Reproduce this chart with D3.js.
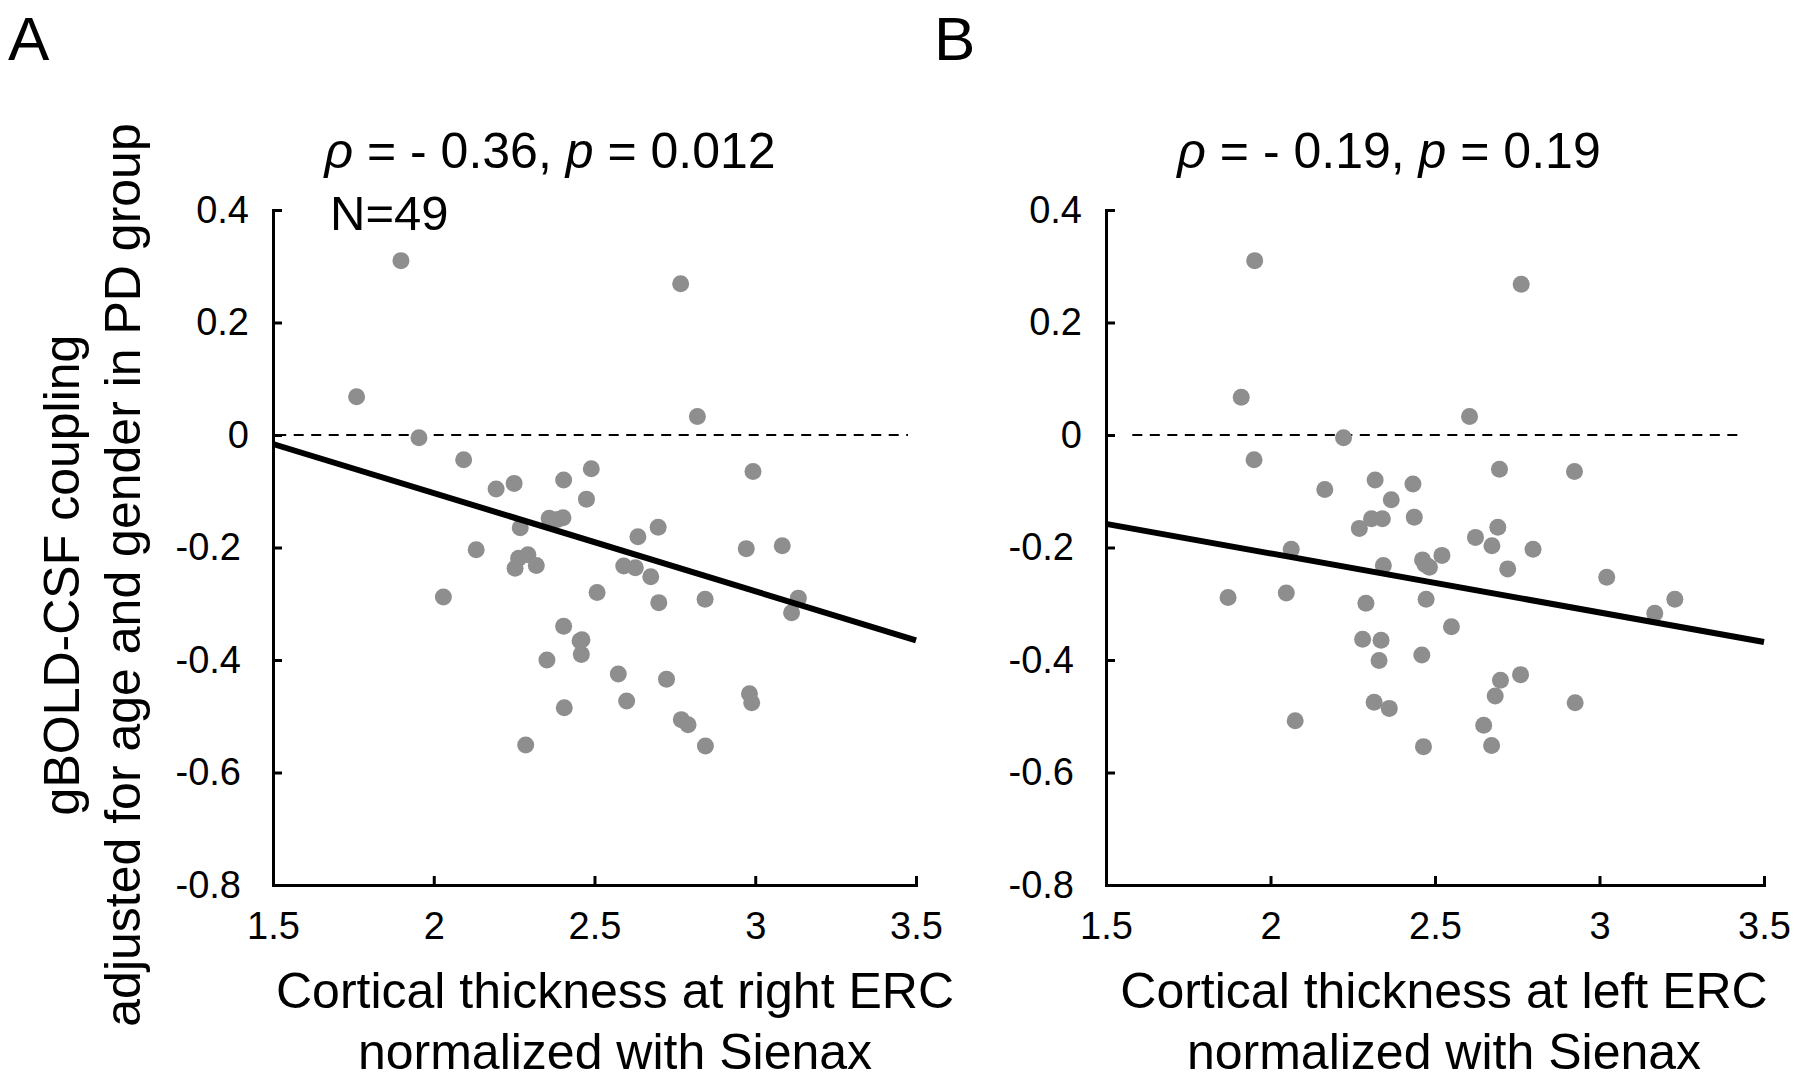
<!DOCTYPE html>
<html>
<head>
<meta charset="utf-8">
<script src="https://cdn.jsdelivr.net/npm/d3@7"></script>
<style>
  body { margin: 0; background: #fff; }
  svg { display: block; font-family: "Liberation Sans", Arial, Helvetica, sans-serif; }
</style>
</head>
<body>
<div id="chart"></div>
<script>
// Panel A: cortical thickness at right ERC vs adjusted coupling.
const thicknessRight = [1.898, 1.760, 1.954, 2.093, 2.194, 2.250, 2.404, 2.490, 2.475, 2.359,
  2.402, 2.269, 2.132, 2.264, 2.293, 2.319, 2.253, 2.030, 2.508, 2.404, 2.461, 2.459, 2.352,
  2.406, 2.286, 2.768, 2.820, 2.993, 2.698, 2.635, 2.591, 2.627, 2.675, 2.700, 2.844, 2.972,
  3.084, 3.134, 3.113, 2.574, 2.724, 2.600, 2.982, 2.989, 2.770, 2.791, 2.845, 2.385, 2.455];
const couplingA = [0.310, 0.068, -0.005, -0.044, -0.096, -0.086, -0.080, -0.060, -0.114, -0.148,
  -0.147, -0.165, -0.204, -0.219, -0.213, -0.232, -0.237, -0.288, -0.280, -0.340, -0.364, -0.390, -0.400,
  -0.485, -0.551, 0.269, 0.033, -0.065, -0.164, -0.181, -0.233, -0.236, -0.252, -0.298, -0.292, -0.202,
  -0.197, -0.290, -0.316, -0.425, -0.434, -0.473, -0.460, -0.476, -0.506, -0.515, -0.553, -0.150, -0.366];

// Panel B: cortical thickness at left ERC vs adjusted coupling.
const thicknessLeft = [1.952, 1.911, 1.950, 2.222, 2.165, 2.318, 2.433, 2.367, 2.307, 2.340,
  2.437, 2.270, 2.063, 2.343, 2.462, 2.483, 1.871, 2.048, 2.290, 2.473, 2.280, 2.336, 2.330,
  2.460, 2.315, 2.361, 2.075, 2.465, 2.762, 2.605, 2.696, 2.924, 2.691, 2.623, 2.673, 2.798,
  2.521, 2.721, 3.022, 3.229, 3.168, 2.550, 2.760, 2.699, 2.683, 2.926, 2.648, 2.672, 2.470];
const couplingB = [0.310, 0.067, -0.044, -0.005, -0.097, -0.080, -0.087, -0.115, -0.149, -0.149,
  -0.146, -0.166, -0.203, -0.232, -0.222, -0.235, -0.289, -0.281, -0.299, -0.292, -0.363, -0.365, -0.401,
  -0.391, -0.475, -0.486, -0.508, -0.554, 0.268, 0.033, -0.061, -0.065, -0.164, -0.182, -0.197, -0.203,
  -0.214, -0.238, -0.253, -0.292, -0.317, -0.341, -0.426, -0.436, -0.464, -0.476, -0.516, -0.552, -0.230];

// Fitted lines, read at x = 1.5 and x = 3.5.
const fitX = [1.5, 3.5];
const fitA = [-0.016, -0.365];
const fitB = [-0.158, -0.368];

// Zero reference line extents.
const zeroA = [1.51, 3.475];
const zeroB = [1.58, 3.44];

const xTicks = [1.5, 2, 2.5, 3, 3.5];
const xTickLabels = ["1.5", "2", "2.5", "3", "3.5"];
const yTicks = [0.4, 0.2, 0, -0.2, -0.4, -0.6, -0.8];
const yTickLabels = ["0.4", "0.2", "0", "-0.2", "-0.4", "-0.6", "-0.8"];

const panelLetters = ["A", "B"];
const rhoValues = ["- 0.36", "- 0.19"];
const pValues = ["0.012", "0.19"];
const xLabels = [["Cortical thickness at right ERC", "normalized with Sienax"],
                 ["Cortical thickness at left ERC", "normalized with Sienax"]];
const yLabel = ["gBOLD-CSF coupling", "adjusted for age and gender in PD group"];

const svg = d3.select("#chart").append("svg")
  .attr("width", 1800)
  .attr("height", 1080);

// Layout of the two panels.
const panels = [
  {left: 273, right: 916, top: 210, bottom: 885, xs: thicknessRight, ys: couplingA, fit: fitA, zero: zeroA,
   letterX: 8, titleX: 550, xlabX: 615},
  {left: 1106, right: 1764, top: 210, bottom: 885, xs: thicknessLeft, ys: couplingB, fit: fitB, zero: zeroB,
   letterX: 934, titleX: 1389, xlabX: 1444}
];

panels.forEach(function(p, i) {
  const x = d3.scaleLinear().domain([1.5, 3.5]).range([p.left, p.right]);
  const y = d3.scaleLinear().domain([-0.8, 0.4]).range([p.bottom, p.top]);

  // Axes (ticks pointing inward, no box).
  const gx = svg.append("g")
    .attr("transform", `translate(0, ${p.bottom})`)
    .call(d3.axisBottom(x).tickValues(xTicks).tickFormat((d, k) => xTickLabels[k])
      .tickSizeInner(-9).tickSizeOuter(0).tickPadding(27));
  const gy = svg.append("g")
    .attr("transform", `translate(${p.left}, 0)`)
    .call(d3.axisLeft(y).tickValues(yTicks).tickFormat((d, k) => yTickLabels[k])
      .tickSizeInner(-9).tickSizeOuter(0).tickPadding(24));
  // negative labels sit a little further from the axis in the original
  gy.selectAll(".tick text").attr("x", d => d < 0 ? -32 : -24);

  [gx, gy].forEach(g => {
    g.select(".domain").attr("stroke", "#000").attr("stroke-width", 3).attr("stroke-linecap", "square");
    g.selectAll(".tick line").attr("stroke", "#000").attr("stroke-width", 3);
    g.selectAll(".tick text").attr("fill", "#000").style("font-size", "38px")
      .style("font-family", "'Liberation Sans', Arial, sans-serif");
  });

  // Zero reference line.
  svg.append("line")
    .attr("x1", x(p.zero[0])).attr("x2", x(p.zero[1]))
    .attr("y1", y(0)).attr("y2", y(0))
    .attr("stroke", "#000").attr("stroke-width", 2)
    .attr("stroke-dasharray", "10,7.5");

  // Points.
  svg.append("g").selectAll("circle")
    .data(p.xs.map((v, k) => [v, p.ys[k]]))
    .join("circle")
      .attr("cx", d => x(d[0]))
      .attr("cy", d => y(d[1]))
      .attr("r", 8.5)
      .attr("fill", "#8e8e8e");

  // Fitted line.
  svg.append("path")
    .datum(fitX.map((v, k) => [v, p.fit[k]]))
    .attr("fill", "none")
    .attr("stroke", "#000")
    .attr("stroke-width", 6)
    .attr("d", d3.line().x(d => x(d[0])).y(d => y(d[1])));

  // Panel letter.
  svg.append("text")
    .attr("x", p.letterX).attr("y", 60)
    .style("font-size", "62px")
    .text(panelLetters[i]);

  // Title with italic rho and p.
  const t = svg.append("text")
    .attr("x", p.titleX).attr("y", 168)
    .attr("text-anchor", "middle")
    .style("font-size", "50px");
  t.append("tspan").style("font-style", "italic").text("\u03c1");
  t.append("tspan").text(" = " + rhoValues[i] + ", ");
  t.append("tspan").style("font-style", "italic").text("p");
  t.append("tspan").text(" = " + pValues[i]);

  // X label, two lines.
  xLabels[i].forEach((s, k) => {
    svg.append("text")
      .attr("x", p.xlabX).attr("y", 1008 + k * 61)
      .attr("text-anchor", "middle")
      .style("font-size", "50px")
      .text(s);
  });
});

// Sample size note on panel A.
svg.append("text")
  .attr("x", 330).attr("y", 230)
  .style("font-size", "49px")
  .text("N=49");

// Shared y label, two rotated lines.
yLabel.forEach((s, k) => {
  svg.append("text")
    .attr("transform", `translate(${79 + k * 61}, 575) rotate(-90)`)
    .attr("text-anchor", "middle")
    .style("font-size", "50px")
    .text(s);
});
</script>
</body>
</html>
